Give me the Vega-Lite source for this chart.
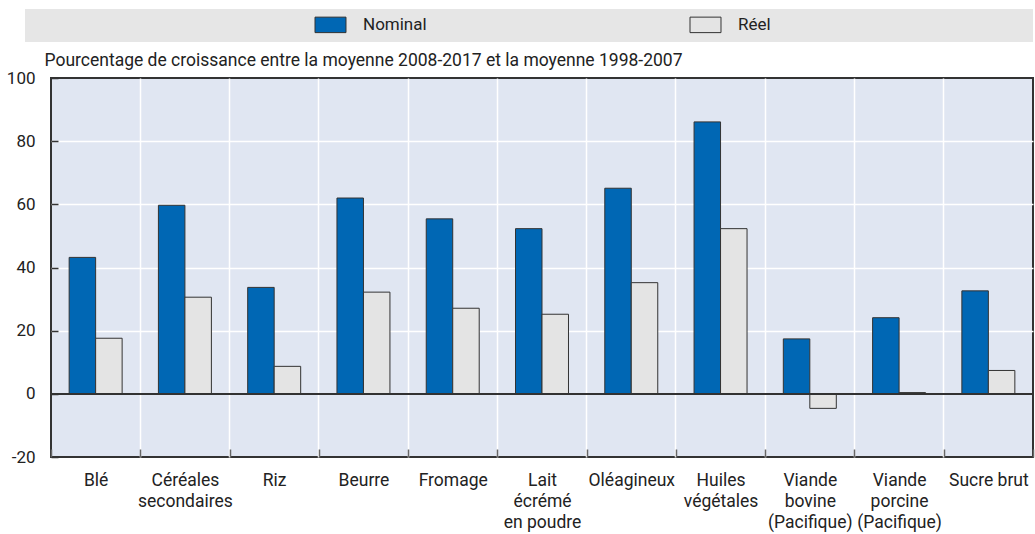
{
  "$schema": "https://vega.github.io/schema/vega-lite/v6.json",
  "autosize": {"type": "none"},
  "padding": {"left": 51, "top": 78, "right": 2, "bottom": 77},
  "width": 982,
  "height": 379,
  "background": "white",
  "data": {
    "values": [
      {"produit": "Blé", "type": "Nominal", "valeur": 43.2},
      {"produit": "Blé", "type": "Réel", "valeur": 17.6},
      {"produit": "Céréales secondaires", "type": "Nominal", "valeur": 59.7},
      {"produit": "Céréales secondaires", "type": "Réel", "valeur": 30.6},
      {"produit": "Riz", "type": "Nominal", "valeur": 33.7},
      {"produit": "Riz", "type": "Réel", "valeur": 8.7},
      {"produit": "Beurre", "type": "Nominal", "valeur": 62.0},
      {"produit": "Beurre", "type": "Réel", "valeur": 32.2},
      {"produit": "Fromage", "type": "Nominal", "valeur": 55.4},
      {"produit": "Fromage", "type": "Réel", "valeur": 27.1},
      {"produit": "Lait écrémé en poudre", "type": "Nominal", "valeur": 52.3},
      {"produit": "Lait écrémé en poudre", "type": "Réel", "valeur": 25.2},
      {"produit": "Oléagineux", "type": "Nominal", "valeur": 65.1},
      {"produit": "Oléagineux", "type": "Réel", "valeur": 35.2},
      {"produit": "Huiles végétales", "type": "Nominal", "valeur": 86.1},
      {"produit": "Huiles végétales", "type": "Réel", "valeur": 52.3},
      {"produit": "Viande bovine (Pacifique)", "type": "Nominal", "valeur": 17.4},
      {"produit": "Viande bovine (Pacifique)", "type": "Réel", "valeur": -4.6},
      {"produit": "Viande porcine (Pacifique)", "type": "Nominal", "valeur": 24.1},
      {"produit": "Viande porcine (Pacifique)", "type": "Réel", "valeur": 0.4},
      {"produit": "Sucre brut", "type": "Nominal", "valeur": 32.6},
      {"produit": "Sucre brut", "type": "Réel", "valeur": 7.4}
    ]
  },
  "layer": [
    {
      "mark": {"type": "bar", "opacity": 0},
      "encoding": {
        "x": {
          "field": "produit",
          "type": "nominal",
          "sort": null,
          "scale": {"paddingInner": 0, "paddingOuter": 0},
          "axis": {
            "orient": "top",
            "values": ["Céréales secondaires", "Riz", "Beurre", "Fromage", "Lait écrémé en poudre", "Oléagineux", "Huiles végétales", "Viande bovine (Pacifique)", "Viande porcine (Pacifique)", "Sucre brut"],
            "bandPosition": 0,
            "tickExtra": false,
            "grid": true,
            "gridColor": "white",
            "gridWidth": 1.5,
            "gridOpacity": 1,
            "labels": false,
            "ticks": false,
            "domain": false,
            "title": null
          }
        },
        "y": {
          "field": "valeur",
          "type": "quantitative",
          "scale": {"domain": [-20, 100], "nice": false, "zero": false},
          "axis": null
        }
      }
    },
    {
      "mark": {"type": "bar", "stroke": "#333333", "strokeWidth": 1},
      "encoding": {
        "x": {
          "field": "produit",
          "type": "nominal",
          "sort": null,
          "axis": {
            "orient": "bottom",
            "title": null,
            "labelAngle": 0,
            "tickBand": "extent",
            "tickSize": -8,
            "tickColor": "#666666",
            "tickWidth": 1.5,
            "domain": false,
            "grid": false,
            "labelFont": "Roboto",
            "labelFontSize": 17.5,
            "labelColor": "#222222",
            "labelBaseline": "top",
            "labelLineHeight": 21,
            "labelPadding": 22,
            "labelLimit": 0,
            "labelExpr": "datum.label == 'Céréales secondaires' ? ['Céréales','secondaires'] : datum.label == 'Lait écrémé en poudre' ? ['Lait','écrémé','en poudre'] : datum.label == 'Huiles végétales' ? ['Huiles','végétales'] : datum.label == 'Viande bovine (Pacifique)' ? ['Viande','bovine','(Pacifique)'] : datum.label == 'Viande porcine (Pacifique)' ? ['Viande','porcine','(Pacifique)'] : datum.label"
          }
        },
        "xOffset": {
          "field": "type",
          "type": "nominal",
          "scale": {"domain": ["Nominal", "Réel"], "paddingInner": 0, "paddingOuter": 0.685}
        },
        "y": {
          "field": "valeur",
          "type": "quantitative",
          "axis": {
            "orient": "left",
            "title": "Pourcentage de croissance entre la moyenne 2008-2017 et la moyenne 1998-2007",
            "titleAngle": 0,
            "titleX": -7,
            "titleY": -13,
            "titleAlign": "left",
            "titleBaseline": "alphabetic",
            "titleFont": "Roboto",
            "titleFontSize": 17.5,
            "titleFontWeight": "normal",
            "titleColor": "#222222",
            "titleLimit": 0,
            "values": [-20, 0, 20, 40, 60, 80, 100],
            "labelExpr": "'' + datum.value",
            "grid": false,
            "domain": false,
            "tickSize": -7,
            "tickColor": "#333333",
            "tickWidth": 1.5,
            "labelFont": "Roboto",
            "labelFontSize": 17,
            "labelColor": "#222222",
            "labelPadding": 23
          }
        },
        "color": {
          "field": "type",
          "type": "nominal",
          "scale": {"domain": ["Nominal", "Réel"], "range": ["#0067b4", "#e4e4e4"]},
          "legend": {
            "orient": "none",
            "legendX": -26,
            "legendY": -69,
            "direction": "horizontal",
            "fillColor": "#e6e6e6",
            "padding": 7,
            "title": " ",
            "titleOrient": "left",
            "titleFontSize": 17,
            "titleFont": "Roboto",
            "titlePadding": 290,
            "symbolType": "M-2,-1H2V1H-2Z",
            "symbolSize": 240,
            "symbolStrokeColor": "#333333",
            "symbolStrokeWidth": 1,
            "symbolOpacity": 1,
            "labelOffset": 24,
            "columnPadding": 261,
            "labelFont": "Roboto",
            "labelFontSize": 17,
            "labelColor": "#222222",
            "labelLimit": 0,
            "labelExpr": "datum.label == 'Réel' ? datum.label + '\u2003\u2003\u2003\u2003\u2003\u2003\u2003\u2003\u2003\u2003\u2003\u2003\u2003\u2003\u2800' : datum.label"
          }
        }
      }
    },
    {
      "mark": {"type": "rule", "color": "#333333", "strokeWidth": 1.2},
      "encoding": {
        "y": {
          "datum": 0,
          "type": "quantitative",
          "axis": {
            "orient": "right",
            "values": [20, 40, 60, 80],
            "grid": true,
            "gridColor": "white",
            "gridWidth": 1.5,
            "gridOpacity": 1,
            "labels": false,
            "ticks": false,
            "domain": false,
            "title": null
          }
        }
      }
    }
  ],
  "resolve": {"axis": {"x": "independent", "y": "independent"}},
  "config": {
    "view": {"fill": "#e0e6f2", "stroke": "#333333", "strokeWidth": 2},
    "font": "Roboto"
  }
}
